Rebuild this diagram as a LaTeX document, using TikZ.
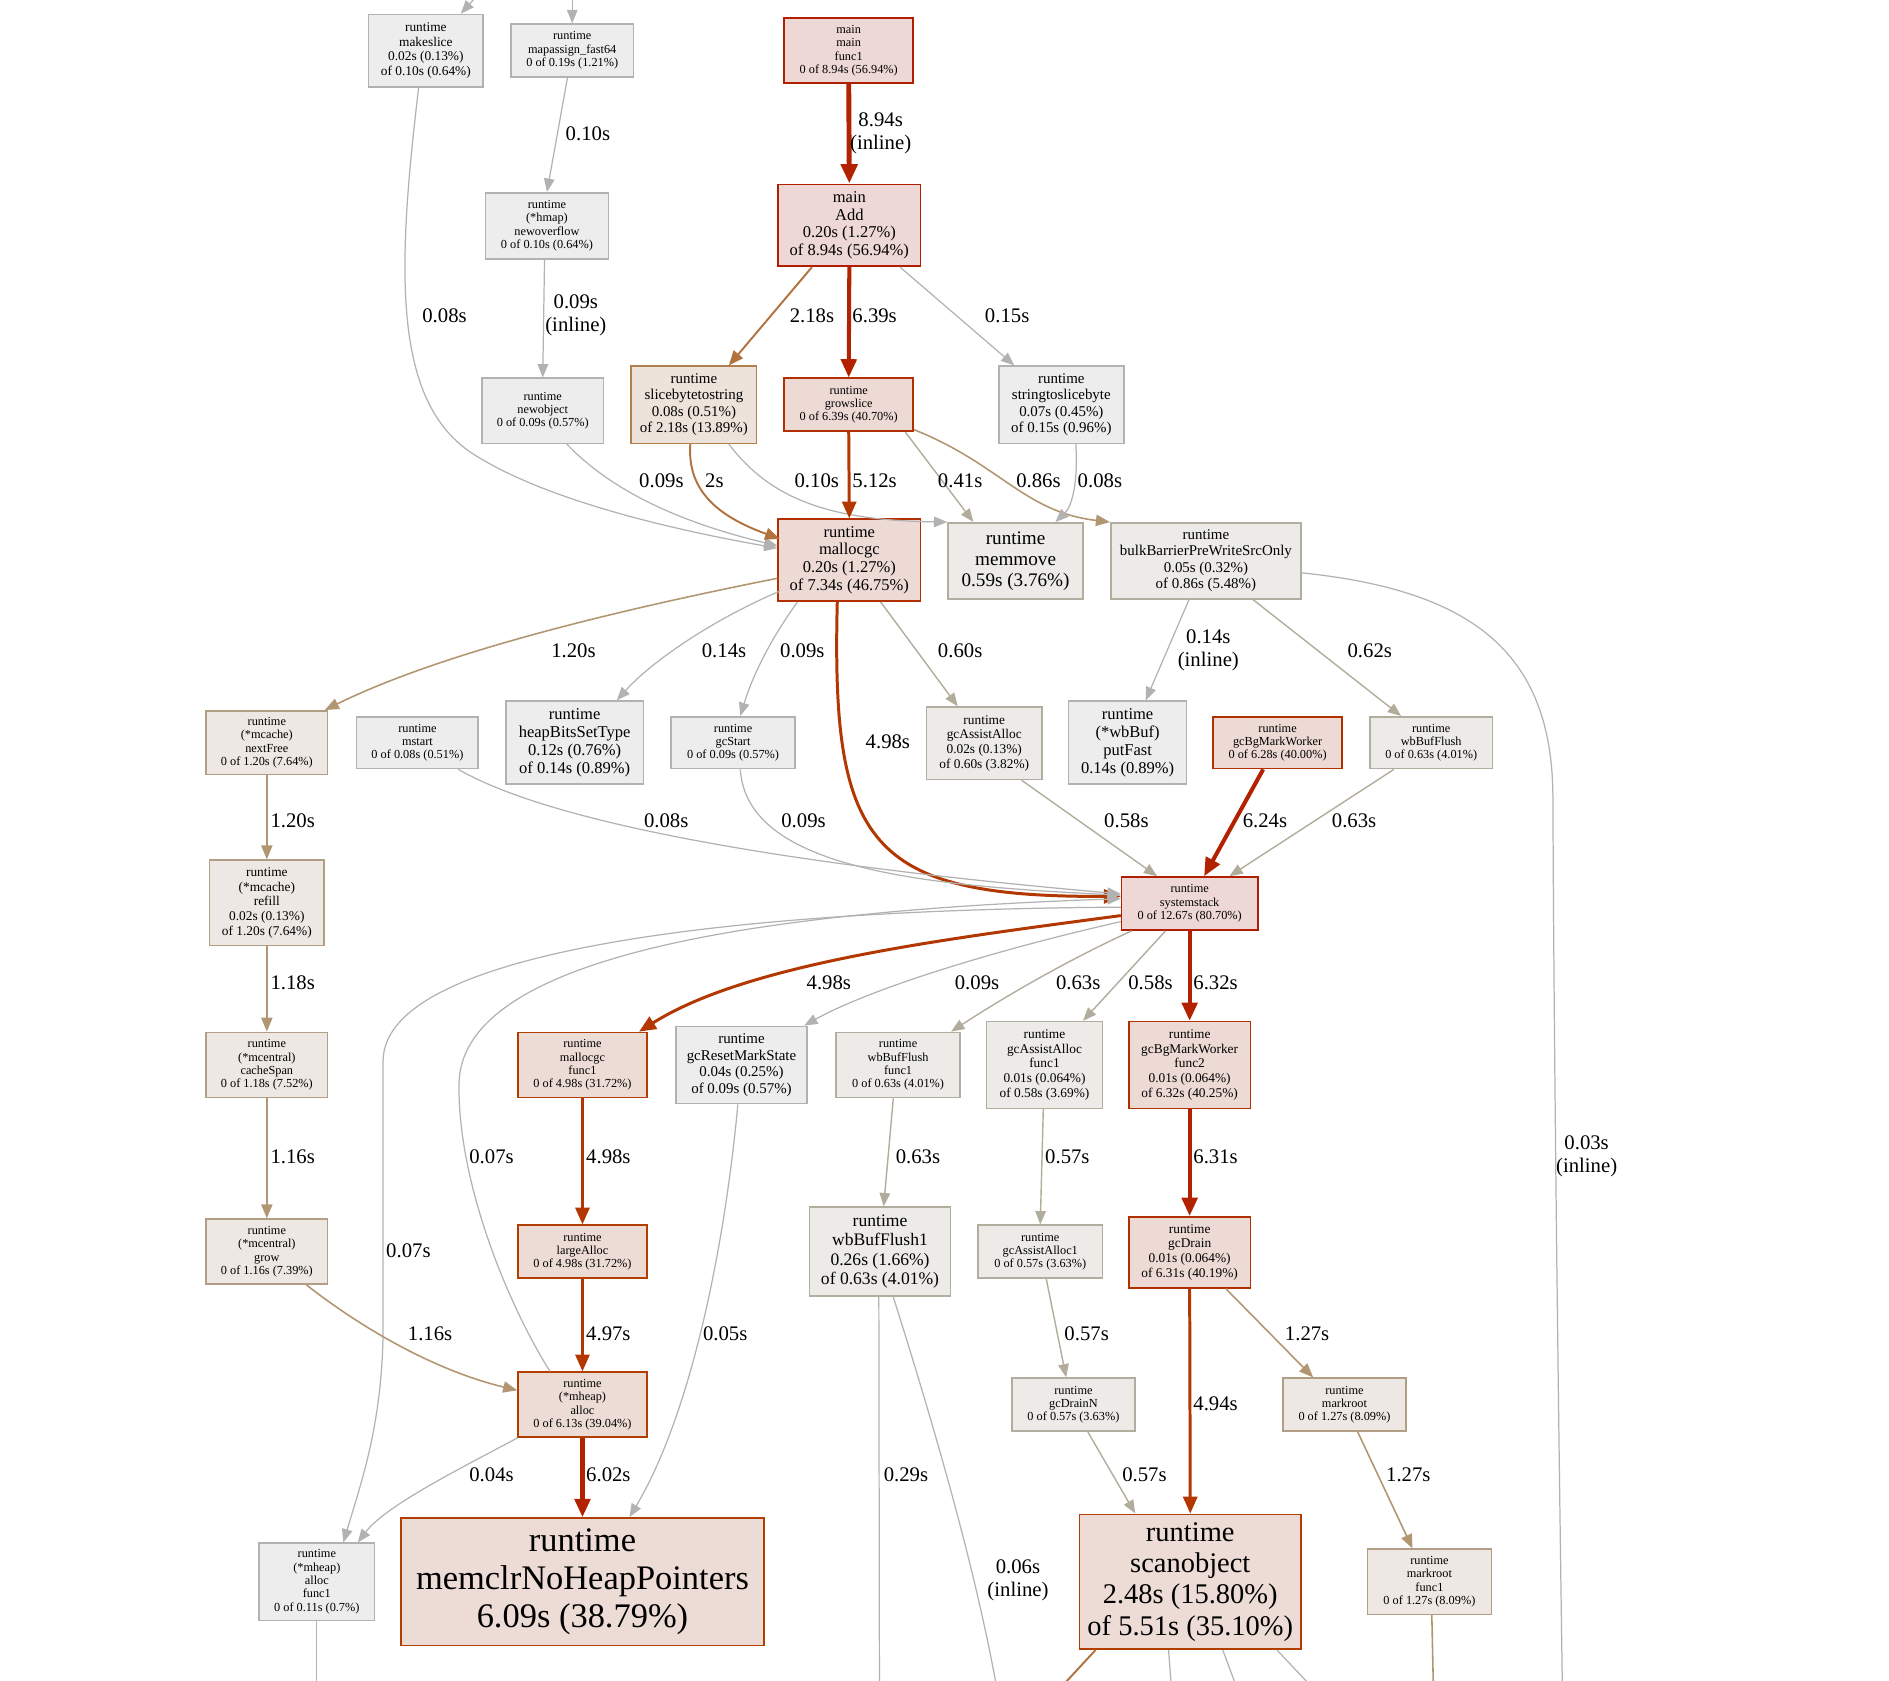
\documentclass[tikz,border=0pt]{standalone}
\usepackage{fontspec}
\setmainfont{Liberation Serif}
\usetikzlibrary{arrows.meta, calc}
% edge colours
\definecolor{egray}{HTML}{B2B2B2}
\definecolor{ekhaki}{HTML}{B2AC9C}
\definecolor{etan}{HTML}{B29672}
\definecolor{eorange}{HTML}{B2723E}
\definecolor{ered}{HTML}{B22200}
\definecolor{ered2}{HTML}{B23700}
% node colours
\definecolor{fillred}{HTML}{EDD8D5}
\definecolor{linered}{HTML}{B21E00}
\definecolor{fillred2}{HTML}{EDDAD5}
\definecolor{linered2}{HTML}{B23000}
\definecolor{fillred3}{HTML}{EDDCD5}
\definecolor{linered3}{HTML}{B23E00}
\definecolor{fillorange}{HTML}{EDE3DA}
\definecolor{lineorange}{HTML}{B2804E}
\definecolor{filltan}{HTML}{EDE8E3}
\definecolor{linetan}{HTML}{B29E84}
\definecolor{fillkhaki}{HTML}{ECEBE7}
\definecolor{linekhaki}{HTML}{B2AE9F}
\definecolor{fillgray}{HTML}{EDEDED}
\definecolor{linegray}{HTML}{B2B2B2}
\newcommand{\pxu}{0.12047mm}
\newcommand{\fsz}[2]{\fontsize{#1}{#2}\selectfont}
\tikzset{
  pnode/.style={draw, rectangle, align=center, inner sep=0pt, line width=0.45pt},
  sz/.style 2 args={minimum width=#1*\pxu, minimum height=#2*\pxu},
  nred/.style={fill=fillred, draw=linered},
  nred2/.style={fill=fillred2, draw=linered2},
  nred3/.style={fill=fillred3, draw=linered3},
  norange/.style={fill=fillorange, draw=lineorange},
  ntan/.style={fill=filltan, draw=linetan},
  nkhaki/.style={fill=fillkhaki, draw=linekhaki},
  ngray/.style={fill=fillgray, draw=linegray},
  f0/.style={font=\fsz{3.5pt}{3.8pt}},
  f1/.style={font=\fsz{3.8pt}{4.2pt}},
  f2/.style={font=\fsz{4.25pt}{4.7pt}},
  f3/.style={font=\fsz{4.7pt}{5.1pt}},
  f4/.style={font=\fsz{5pt}{5.5pt}},
  f5/.style={font=\fsz{5.45pt}{6pt}},
  f6/.style={font=\fsz{8.1pt}{8.9pt}},
  f7/.style={font=\fsz{9.8pt}{10.8pt}},
  elab/.style={font=\fsz{5.9pt}{6.5pt}, align=center, inner sep=0pt},
  eg/.style={draw=egray, line width=0.35pt, -{Triangle[length=3.8pt, width=3pt]}},
  ek/.style={draw=ekhaki, line width=0.4pt, -{Triangle[length=3.8pt, width=3pt]}},
  et/.style={draw=etan, line width=0.45pt, -{Triangle[length=4pt, width=3.2pt]}},
  eo/.style={draw=eorange, line width=0.55pt, -{Triangle[length=4.2pt, width=3.4pt]}},
  er1/.style={draw=ered, line width=1.4pt, -{Triangle[length=5.5pt, width=4.6pt]}},
  er2/.style={draw=ered, line width=1.15pt, -{Triangle[length=5.2pt, width=4.4pt]}},
  er3/.style={draw=ered2, line width=0.85pt, -{Triangle[length=4.8pt, width=4pt]}}
}

\begin{document}
\begin{tikzpicture}[x=0.12047mm, y=-0.12047mm]
    \useasboundingbox (0,0) rectangle (1568,1395);
    \clip (0,0) rectangle (1568,1395);

    % ---------------- nodes ----------------
    \node[pnode, ngray, f1, sz={95}{60}] (mkslice) at (353.5,42) {runtime\\makeslice\\0.02s (0.13\%)\\of 0.10s (0.64\%)};
    \node[pnode, ngray, f0, sz={102}{44}] (mapasgn) at (475,42) {runtime\\mapassign\_fast64\\0 of 0.19s (1.21\%)};
    \node[pnode, nred, f0, sz={107}{54}] (mainfn) at (704.5,42) {main\\main\\func1\\0 of 8.94s (56.94\%)};
    \node[pnode, ngray, f0, sz={102}{55}] (newovf) at (454,187.5) {runtime\\(*hmap)\\newoverflow\\0 of 0.10s (0.64\%)};
    \node[pnode, nred, f3, sz={118}{68}] (madd) at (705,187) {main\\Add\\0.20s (1.27\%)\\of 8.94s (56.94\%)};
    \node[pnode, ngray, f0, sz={101}{54}] (newobj) at (450.5,341) {runtime\\newobject\\0 of 0.09s (0.57\%)};
    \node[pnode, norange, f2, sz={104}{64}] (sb2s) at (576,336) {runtime\\slicebytetostring\\0.08s (0.51\%)\\of 2.18s (13.89\%)};
    \node[pnode, nred2, f0, sz={107}{44}] (growslice) at (704.5,336) {runtime\\growslice\\0 of 6.39s (40.70\%)};
    \node[pnode, ngray, f2, sz={104}{64}] (s2sb) at (881,336) {runtime\\stringtoslicebyte\\0.07s (0.45\%)\\of 0.15s (0.96\%)};
    \node[pnode, nred2, f3, sz={118}{68}] (mallocgc) at (705,465) {runtime\\mallocgc\\0.20s (1.27\%)\\of 7.34s (46.75\%)};
    \node[pnode, nkhaki, f5, sz={112}{63}] (memmove) at (843,465.5) {runtime\\memmove\\0.59s (3.76\%)};
    \node[pnode, nkhaki, f2, sz={158}{63}] (bulkb) at (1001,465.5) {runtime\\bulkBarrierPreWriteSrcOnly\\0.05s (0.32\%)\\of 0.86s (5.48\%)};

    \node[pnode, ntan, f0, sz={101}{53}] (nextfree) at (221.5,616.5) {runtime\\(*mcache)\\nextFree\\0 of 1.20s (7.64\%)};
    \node[pnode, ngray, f0, sz={101}{43}] (mstart) at (346.5,616.5) {runtime\\mstart\\0 of 0.08s (0.51\%)};
    \node[pnode, ngray, f3, sz={114}{69}] (hbits) at (477,616.5) {runtime\\heapBitsSetType\\0.12s (0.76\%)\\of 0.14s (0.89\%)};
    \node[pnode, ngray, f0, sz={103}{43}] (gcstart) at (608.5,616.5) {runtime\\gcStart\\0 of 0.09s (0.57\%)};
    \node[pnode, nkhaki, f1, sz={96}{60}] (gcassist) at (817,617) {runtime\\gcAssistAlloc\\0.02s (0.13\%)\\of 0.60s (3.82\%)};
    \node[pnode, ngray, f3, sz={98}{69}] (putfast) at (936,616.5) {runtime\\(*wbBuf)\\putFast\\0.14s (0.89\%)};
    \node[pnode, nred2, f0, sz={107}{43}] (bgmark) at (1060.5,616.5) {runtime\\gcBgMarkWorker\\0 of 6.28s (40.00\%)};
    \node[pnode, nkhaki, f0, sz={102}{43}] (wbflush) at (1188,616.5) {runtime\\wbBufFlush\\0 of 0.63s (4.01\%)};

    \node[pnode, ntan, f1, sz={95}{71}] (refill) at (221.5,749.5) {runtime\\(*mcache)\\refill\\0.02s (0.13\%)\\of 1.20s (7.64\%)};
    \node[pnode, nred, f0, sz={113}{44}] (sysstk) at (987.5,750) {runtime\\systemstack\\0 of 12.67s (80.70\%)};

    \node[pnode, ntan, f0, sz={101}{54}] (cachespan) at (221.5,884) {runtime\\(*mcentral)\\cacheSpan\\0 of 1.18s (7.52\%)};
    \node[pnode, nred3, f0, sz={107}{54}] (mgcf1) at (483.5,884) {runtime\\mallocgc\\func1\\0 of 4.98s (31.72\%)};
    \node[pnode, ngray, f2, sz={109}{64}] (gcreset) at (615.5,884) {runtime\\gcResetMarkState\\0.04s (0.25\%)\\of 0.09s (0.57\%)};
    \node[pnode, nkhaki, f0, sz={103}{54}] (wbff1) at (745.5,884) {runtime\\wbBufFlush\\func1\\0 of 0.63s (4.01\%)};
    \node[pnode, nkhaki, f1, sz={96}{72}] (gcaf1) at (867,884) {runtime\\gcAssistAlloc\\func1\\0.01s (0.064\%)\\of 0.58s (3.69\%)};
    \node[pnode, nred2, f1, sz={101}{72}] (bgmf2) at (987.5,884) {runtime\\gcBgMarkWorker\\func2\\0.01s (0.064\%)\\of 6.32s (40.25\%)};

    \node[pnode, ntan, f0, sz={101}{54}] (grow) at (221.5,1039) {runtime\\(*mcentral)\\grow\\0 of 1.16s (7.39\%)};
    \node[pnode, nred3, f0, sz={107}{44}] (largea) at (483.5,1039) {runtime\\largeAlloc\\0 of 4.98s (31.72\%)};
    \node[pnode, nkhaki, f4, sz={117}{74}] (wbf1) at (730.5,1039) {runtime\\wbBufFlush1\\0.26s (1.66\%)\\of 0.63s (4.01\%)};
    \node[pnode, nkhaki, f0, sz={103}{44}] (gca1) at (863.5,1039) {runtime\\gcAssistAlloc1\\0 of 0.57s (3.63\%)};
    \node[pnode, nred2, f1, sz={101}{59}] (gcdrain) at (987.5,1039.5) {runtime\\gcDrain\\0.01s (0.064\%)\\of 6.31s (40.19\%)};

    \node[pnode, nred3, f0, sz={107}{54}] (mhalloc) at (483.5,1166) {runtime\\(*mheap)\\alloc\\0 of 6.13s (39.04\%)};
    \node[pnode, nkhaki, f0, sz={102}{44}] (gcdn) at (891,1166) {runtime\\gcDrainN\\0 of 0.57s (3.63\%)};
    \node[pnode, ntan, f0, sz={102}{44}] (mroot) at (1116,1166) {runtime\\markroot\\0 of 1.27s (8.09\%)};

    \node[pnode, ngray, f0, sz={96}{64}] (mhaf1) at (263,1313) {runtime\\(*mheap)\\alloc\\func1\\0 of 0.11s (0.7\%)};
    \node[pnode, nred3, f7, sz={301}{106}] (memclr) at (483.5,1313) {runtime\\memclrNoHeapPointers\\6.09s (38.79\%)};
    \node[pnode, nred3, f6, sz={184}{112}] (scanobj) at (988,1313) {runtime\\scanobject\\2.48s (15.80\%)\\of 5.51s (35.10\%)};
    \node[pnode, ntan, f0, sz={103}{54}] (mrf1) at (1186.5,1313) {runtime\\markroot\\func1\\0 of 1.27s (8.09\%)};

    % free ends of edges leaving the visible part
    \coordinate (intop1) at (400,-8);
    \coordinate (intop2) at (475,-8);
    \coordinate (outb1) at (263,1410);
    \coordinate (outb2) at (730,1410);
    \coordinate (outb3) at (829,1410);
    \coordinate (outb4) at (872,1410);
    \coordinate (outb5) at (973,1410);
    \coordinate (outb6) at (1030,1410);
    \coordinate (outb7) at (1098,1410);
    \coordinate (outb8) at (1190,1410);
    \coordinate (outb9) at (1297,1410);

    % ---------------- edges ----------------
    \draw[eg] (intop1) -- ($(mkslice.north)+(29,0)$);
    \draw[eg] (intop2) -- (mapasgn.north);

    \draw[eg] ($(mkslice.south)+(-6,0)$) .. controls (330,220) and (325,330) .. (390,375)
        .. controls (450,415) and (560,440) .. ($(mallocgc.west)+(0,-10)$)
        node[elab] (l01) at (369,262) {0.08s};
    \draw[eg] ($(mapasgn.south)+(-4,0)$) -- (newovf.north)
        node[elab] (l02) at (488,111) {0.10s};
    \draw[eg] ($(newovf.south)+(-2,0)$) -- (newobj.north)
        node[elab] (l03) at (478,262) {0.09s\\(inline)};
    \draw[eg] ($(newobj.south)+(20,0)$) .. controls (510,410) and (570,435) .. ($(mallocgc.west)+(0,-12)$)
        node[elab] (l04) at (549,399) {0.09s};
    \draw[eo] ($(sb2s.south)+(-3,0)$) .. controls (570,410) and (600,430) .. ($(mallocgc.north west)+(2,17)$)
        node[elab] (l05) at (593,399) {2s};
    \draw[eg] ($(sb2s.south)+(29,0)$) .. controls (640,415) and (690,432) .. ($(memmove.north west)+(0,0)$)
        node[elab] (l06) at (678,399) {0.10s};
    \draw[er3] (growslice.south) -- (mallocgc.north)
        node[elab] (l07) at (726,399) {5.12s};
    \draw[ek] ($(growslice.south)+(47,0)$) -- ($(memmove.north)+(-35,0)$)
        node[elab] (l08) at (797,399) {0.41s};
    \draw[et] ($(growslice.south east)+(0,-2)$) .. controls (830,385) and (850,425) .. (bulkb.north west)
        node[elab] (l09) at (862,399) {0.86s};
    \draw[eg] ($(s2sb.south)+(12,0)$) .. controls (895,400) and (890,420) .. ($(memmove.north)+(33,0)$)
        node[elab] (l10) at (913,399) {0.08s};

    \draw[er1] (mainfn.south) -- (madd.north)
        node[elab] (l11) at (731,111) {8.94s\\(inline)};
    \draw[eo] ($(madd.south)+(-31,0)$) -- ($(sb2s.north)+(29,0)$)
        node[elab] (l12) at (674,262) {2.18s};
    \draw[er2] (madd.south) -- (growslice.north)
        node[elab] (l13) at (726,262) {6.39s};
    \draw[eg] ($(madd.south)+(42,0)$) -- ($(s2sb.north)+(-39,0)$)
        node[elab] (l14) at (836,262) {0.15s};

    \draw[et] ($(mallocgc.west)+(0,15)$) .. controls (520,505) and (370,540) .. ($(nextfree.north east)+(-3,0)$)
        node[elab] (l15) at (476,540) {1.20s};
    \draw[eg] ($(mallocgc.south west)+(2,-9)$) .. controls (590,515) and (540,550) .. ($(hbits.north)+(35,0)$)
        node[elab] (l16) at (601,540) {0.14s};
    \draw[eg] ($(mallocgc.south)+(-43,0)$) .. controls (640,530) and (625,560) .. ($(gcstart.north)+(6,0)$)
        node[elab] (l17) at (666,540) {0.09s};
    \draw[er3] ($(mallocgc.south)+(-10,0)$) .. controls (690,700) and (720,745) .. ($(sysstk.west)+(0,-6)$)
        node[elab] (l18) at (737,616) {4.98s};
    \draw[ek] ($(mallocgc.south)+(26,0)$) -- ($(gcassist.north)+(-22,0)$)
        node[elab] (l19) at (797,540) {0.60s};
    \draw[eg] ($(bulkb.south)+(-14,0)$) -- ($(putfast.north)+(15,0)$)
        node[elab] (l20) at (1003,540) {0.14s\\(inline)};
    \draw[ek] ($(bulkb.south)+(39,0)$) -- ($(wbflush.north)+(-25,0)$)
        node[elab] (l21) at (1137,540) {0.62s};
    \draw[eg, -] ($(bulkb.east)+(0,10)$) .. controls (1220,490) and (1288,540) .. (1289,660)
        .. controls (1290,900) and (1294,1200) .. (outb9)
        node[elab] (l22) at (1317,960) {0.03s\\(inline)};

    \draw[et] (nextfree.south) -- (refill.north)
        node[elab] (l23) at (243,681) {1.20s};
    \draw[eg] ($(mstart.south)+(34,0)$) .. controls (470,690) and (700,722) .. ($(sysstk.west)+(0,-8)$)
        node[elab] (l24) at (553,681) {0.08s};
    \draw[eg] ($(gcstart.south)+(6,0)$) .. controls (620,720) and (760,735) .. ($(sysstk.west)+(0,-7)$)
        node[elab] (l25) at (667,681) {0.09s};
    \draw[ek] ($(gcassist.south)+(31,0)$) -- ($(sysstk.north)+(-27,0)$)
        node[elab] (l26) at (935,681) {0.58s};
    \draw[er2] ($(bgmark.south)+(-12,0)$) -- ($(sysstk.north)+(12,0)$)
        node[elab] (l27) at (1050,681) {6.24s};
    \draw[ek] ($(wbflush.south)+(-31,0)$) -- ($(sysstk.north)+(33,0)$)
        node[elab] (l28) at (1124,681) {0.63s};

    \draw[et] (refill.south) -- (cachespan.north)
        node[elab] (l29) at (243,816) {1.18s};
    \draw[er3] ($(sysstk.west)+(0,10)$) .. controls (780,780) and (620,800) .. ($(mgcf1.north)+(47,0)$)
        node[elab] (l30) at (688,816) {4.98s};
    \draw[eg] ($(sysstk.west)+(0,15)$) .. controls (820,790) and (720,822) .. ($(gcreset.north)+(52,0)$)
        node[elab] (l31) at (811,816) {0.09s};
    \draw[ek] ($(sysstk.south west)+(9,0)$) .. controls (880,800) and (830,830) .. ($(wbff1.north)+(44,0)$)
        node[elab] (l32) at (895,816) {0.63s};
    \draw[ek] ($(sysstk.south)+(-20,0)$) -- ($(gcaf1.north)+(32,0)$)
        node[elab] (l33) at (955,816) {0.58s};
    \draw[er2] (sysstk.south) -- (bgmf2.north)
        node[elab] (l34) at (1009,816) {6.32s};
    \draw[eg] ($(sysstk.west)+(0,3)$) .. controls (600,755) and (320,790) .. (318,880)
        -- (318,1100) .. controls (318,1180) and (300,1230) .. ($(mhaf1.north)+(22,0)$)
        node[elab] (l35) at (339,1038) {0.07s};
    \draw[eg] ($(mhalloc.north)+(-27,0)$) .. controls (420,1080) and (380,980) .. (381,900)
        .. controls (382,800) and (600,757) .. ($(sysstk.west)+(0,-4)$)
        node[elab] (l36) at (408,960) {0.07s};

    \draw[et] (cachespan.south) -- (grow.north)
        node[elab] (l37) at (243,960) {1.16s};
    \draw[er3] (mgcf1.south) -- (largea.north)
        node[elab] (l38) at (505,960) {4.98s};
    \draw[eg] ($(gcreset.south)+(-3,0)$) .. controls (600,1050) and (570,1180) .. ($(memclr.north)+(39,0)$)
        node[elab] (l39) at (602,1107) {0.05s};
    \draw[ek] ($(wbff1.south)+(-4,0)$) -- ($(wbf1.north)+(3,0)$)
        node[elab] (l40) at (762,960) {0.63s};
    \draw[ek] ($(gcaf1.south)+(-1,0)$) -- (gca1.north)
        node[elab] (l41) at (886,960) {0.57s};
    \draw[er2] (bgmf2.south) -- (gcdrain.north)
        node[elab] (l42) at (1009,960) {6.31s};

    \draw[et] ($(grow.south)+(33,0)$) .. controls (310,1110) and (370,1140) .. ($(mhalloc.west)+(0,-12)$)
        node[elab] (l43) at (357,1107) {1.16s};
    \draw[er3] (largea.south) -- (mhalloc.north)
        node[elab] (l44) at (505,1107) {4.97s};
    \draw[ek] ($(gca1.south)+(5,0)$) -- ($(gcdn.north)+(-6,0)$)
        node[elab] (l45) at (902,1107) {0.57s};
    \draw[et] ($(gcdrain.south)+(30,0)$) -- ($(mroot.north)+(-26,0)$)
        node[elab] (l46) at (1085,1107) {1.27s};
    \draw[er3] (gcdrain.south) -- (scanobj.north)
        node[elab] (l47) at (1009,1165) {4.94s};

    \draw[eg] (mhalloc.south west) .. controls (380,1220) and (320,1250) .. ($(mhaf1.north)+(34,0)$)
        node[elab] (l48) at (408,1224) {0.04s};
    \draw[er2] (mhalloc.south) -- (memclr.north)
        node[elab] (l49) at (505,1224) {6.02s};
    \draw[ek] ($(gcdn.south)+(12,0)$) -- ($(scanobj.north west)+(47,0)$)
        node[elab] (l50) at (950,1224) {0.57s};
    \draw[et] ($(mroot.south)+(11,0)$) -- ($(mrf1.north)+(-14,0)$)
        node[elab] (l51) at (1169,1224) {1.27s};

    % edges running out at the bottom
    \draw[eg, -] (mhaf1.south) -- (outb1);
    \draw[eg, -] ($(wbf1.south)+(-1,0)$) -- (outb2)
        node[elab] (l52) at (752,1224) {0.29s};
    \draw[eg, -] ($(wbf1.south)+(11,0)$) .. controls (790,1230) and (815,1330) .. (outb3)
        node[elab] (l53) at (845,1312) {0.06s\\(inline)};
    \draw[eo, -] ($(scanobj.south west)+(14,0)$) -- (outb4);
    \draw[eg, -] ($(scanobj.south)+(-18,0)$) -- (outb5);
    \draw[eg, -] ($(scanobj.south)+(27,0)$) -- (outb6);
    \draw[eg, -] ($(scanobj.south)+(72,0)$) -- (outb7);
    \draw[et, -] ($(mrf1.south)+(2,0)$) -- (outb8);
\end{tikzpicture}
\end{document}
